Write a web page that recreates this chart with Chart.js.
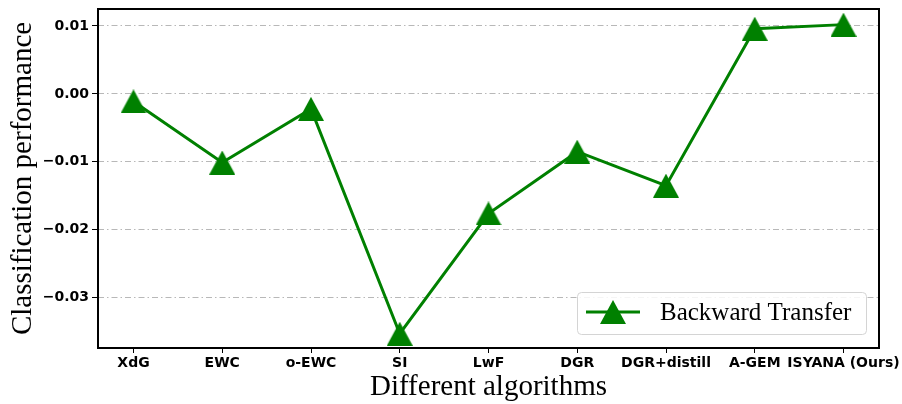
<!DOCTYPE html>
<html>
<head>
<meta charset="utf-8">
<script src="https://cdn.jsdelivr.net/npm/chart.js@4.4.1/dist/chart.umd.min.js"></script>
<style>
  html, body { margin: 0; padding: 0; background: #fff; }
  #wrap { width: 902px; height: 404px; }
</style>
</head>
<body>
<div id="wrap"><canvas id="btChart" width="902" height="404"></canvas></div>
<script>
// === Data ===
const algorithms = ['XdG', 'EWC', 'o-EWC', 'SI', 'LwF', 'DGR', 'DGR+distill', 'A-GEM', 'ISYANA (Ours)'];
const backwardTransfer = [-0.0011, -0.0101, -0.0022, -0.0353, -0.0176, -0.0085, -0.0135, 0.0096, 0.0102];
const yTickValues = [-0.03, -0.02, -0.01, 0.00, 0.01];

const GREEN = '#008000';
const tickFont = { family: 'DejaVu Sans', size: 14, weight: 'bold' };

// matplotlib-like '^' marker: triangle filling its bounding box, centred on the point
function makeTriangle(w, h, color) {
    const c = document.createElement('canvas');
    c.width = w;
    c.height = h;
    const g = c.getContext('2d');
    g.fillStyle = color;
    g.beginPath();
    g.moveTo(w / 2, 0);
    g.lineTo(w, h);
    g.lineTo(0, h);
    g.closePath();
    g.fill();
    return c;
}
const marker = makeTriangle(26, 24, GREEN);

function fmtTick(v) {
    if (Math.abs(v) < 1e-9) return '0.00';
    return (v < 0 ? '\u2212' : '') + Math.abs(v).toFixed(2);
}

// === Frame around the plot area ===
const frame = {
    id: 'frame',
    afterDatasetsDraw(chart) {
        const { ctx, chartArea: a } = chart;
        ctx.save();
        ctx.strokeStyle = '#000';
        ctx.lineWidth = 2;
        ctx.strokeRect(a.left, a.top, a.right - a.left, a.bottom - a.top);
        ctx.restore();
    }
};

// === Legend inside the plot, lower right ===
const insideLegend = {
    id: 'insideLegend',
    afterDraw(chart) {
        const { ctx, chartArea: a } = chart;
        const ds = chart.data.datasets[0];
        const w = 289, h = 42;
        const x = a.right - 13 - w;
        const y = a.bottom - 14 - h;
        const cy = y + 20;

        ctx.save();
        ctx.fillStyle = 'rgba(255,255,255,0.85)';
        ctx.strokeStyle = '#d4d4d4';
        ctx.lineWidth = 1;
        ctx.beginPath();
        ctx.roundRect(x + 0.5, y + 0.5, w, h, 4);
        ctx.fill();
        ctx.stroke();

        ctx.strokeStyle = ds.borderColor;
        ctx.lineWidth = ds.borderWidth;
        ctx.beginPath();
        ctx.moveTo(x + 9, cy);
        ctx.lineTo(x + 63, cy);
        ctx.stroke();
        ctx.drawImage(marker, x + 36 - marker.width / 2, cy - marker.height / 2);

        ctx.fillStyle = '#000';
        ctx.font = '25px "Liberation Serif"';
        ctx.textBaseline = 'middle';
        ctx.fillText(ds.label, x + 83, cy + 1);
        ctx.restore();
    }
};

const ctx = document.getElementById('btChart').getContext('2d');
new Chart(ctx, {
    type: 'line',
    data: {
        datasets: [{
            label: 'Backward Transfer',
            data: algorithms.map((name, i) => ({ x: i, y: backwardTransfer[i] })),
            borderColor: GREEN,
            backgroundColor: GREEN,
            borderWidth: 3,
            pointStyle: marker,
            pointRadius: 13,
            tension: 0,
            clip: false
        }]
    },
    options: {
        responsive: false,
        devicePixelRatio: 1,
        animation: false,
        events: [],
        layout: { autoPadding: false, padding: { left: 0, right: 23, top: 9, bottom: 0 } },
        plugins: {
            legend: { display: false },
            tooltip: { enabled: false }
        },
        scales: {
            x: {
                type: 'linear',
                min: -0.4,
                max: 8.4,
                afterBuildTicks: s => { s.ticks = algorithms.map((_, i) => ({ value: i })); },
                afterFit: s => { s.height = 56; s.paddingLeft = 0; s.paddingRight = 0; },
                ticks: {
                    autoSkip: false,
                    maxRotation: 0,
                    padding: 2,
                    color: '#000',
                    font: tickFont,
                    callback: v => algorithms[v]
                },
                grid: { drawOnChartArea: false, tickLength: 5, color: '#000' },
                border: { display: false },
                title: {
                    display: true,
                    text: 'Different algorithms',
                    color: '#000',
                    font: { family: 'Liberation Serif', size: 29, lineHeight: 1.0 },
                    padding: { top: 0, bottom: 2 }
                }
            },
            y: {
                min: -0.0374,
                max: 0.0125,
                afterBuildTicks: s => { s.ticks = yTickValues.map(v => ({ value: v })); },
                afterFit: s => { s.width = 98; s.paddingTop = 0; s.paddingBottom = 0; },
                ticks: {
                    padding: 3,
                    color: '#000',
                    font: tickFont,
                    callback: v => fmtTick(v)
                },
                grid: { color: '#b8b8b8', lineWidth: 1, tickLength: 6, tickColor: '#000' },
                border: { display: false, dash: [6, 3, 1.5, 3] },
                title: {
                    display: true,
                    text: 'Classification performance',
                    color: '#000',
                    font: { family: 'Liberation Serif', size: 29, lineHeight: 1.2 },
                    padding: { top: 6, bottom: 0 }
                }
            }
        }
    },
    plugins: [frame, insideLegend]
});
</script>
</body>
</html>
